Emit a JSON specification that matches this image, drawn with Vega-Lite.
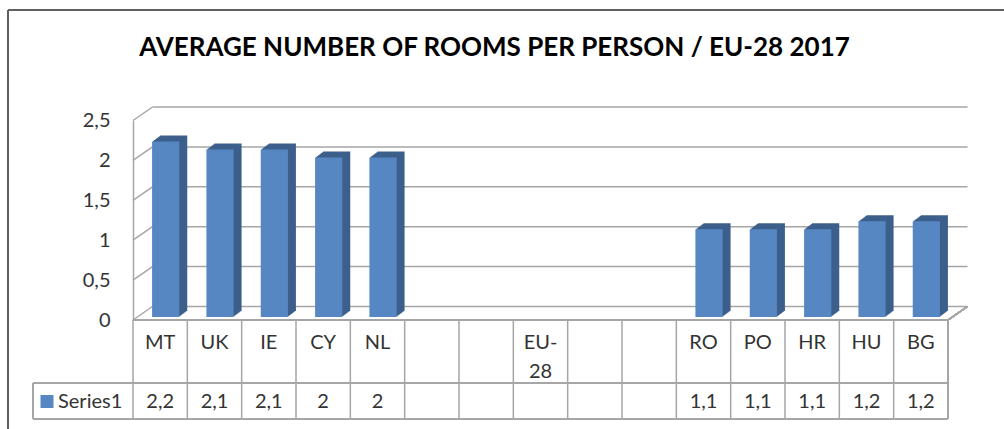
{
  "$schema": "https://vega.github.io/schema/vega-lite/v6.json",
  "autosize": {"type": "none"},
  "padding": {"left": 133, "top": 120.5, "right": 56, "bottom": 109},
  "width": 815,
  "height": 199.5,
  "background": "#ffffff",
  "title": {"text": "AVERAGE NUMBER OF ROOMS PER PERSON / EU-28 2017", "font": "Lato", "fontSize": 26, "fontWeight": "bold", "color": "#000000", "anchor": "middle", "dx": -46, "offset": -52},
  "config": {
    "view": {"stroke": null},
    "numberFormat": "~g",
    "locale": {"number": {"decimal": ",", "thousands": ".", "grouping": [3], "currency": ["", " €"]}},
    "text": {"font": "Lato", "fontSize": 20, "color": "#333333"}
  },
  "data": {"values": [
    {"country": "MT", "label": "MT", "value": 2.2},
    {"country": "UK", "label": "UK", "value": 2.1},
    {"country": "IE", "label": "IE", "value": 2.1},
    {"country": "CY", "label": "CY", "value": 2},
    {"country": "NL", "label": "NL", "value": 2},
    {"country": "_a", "label": "", "value": null},
    {"country": "_b", "label": "", "value": null},
    {"country": "EU-28", "label": "EU-\n28", "value": null},
    {"country": "_c", "label": "", "value": null},
    {"country": "_d", "label": "", "value": null},
    {"country": "RO", "label": "RO", "value": 1.1},
    {"country": "PO", "label": "PO", "value": 1.1},
    {"country": "HR", "label": "HR", "value": 1.1},
    {"country": "HU", "label": "HU", "value": 1.2},
    {"country": "BG", "label": "BG", "value": 1.2}
  ]},
  "layer": [
    {
      "data": {"values": [{"v": 0}, {"v": 0.5}, {"v": 1}, {"v": 1.5}, {"v": 2}, {"v": 2.5}]},
      "mark": {"type": "rule", "color": "#a6a6a6", "strokeWidth": 1.5, "xOffset": 19.5, "x2Offset": 19.5, "yOffset": -13.5, "y2Offset": -13.5},
      "encoding": {
        "x": {"datum": "MT", "type": "nominal", "bandPosition": 0, "scale": {"domain": ["MT","UK","IE","CY","NL","_a","_b","EU-28","_c","_d","RO","PO","HR","HU","BG"], "paddingInner": 0, "paddingOuter": 0}, "axis": null},
        "x2": {"datum": "BG", "bandPosition": 1},
        "y": {"field": "v", "type": "quantitative", "scale": {"domain": [0, 2.5], "nice": false}, "axis": {"title": null}}
      }
    },
    {
      "data": {"values": [{"v": 0}, {"v": 0.5}, {"v": 1}, {"v": 1.5}, {"v": 2}, {"v": 2.5}]},
      "mark": {"type": "rule", "color": "#a6a6a6", "strokeWidth": 1.5, "x2Offset": 19.5, "y2Offset": -13.5},
      "encoding": {
        "x": {"datum": "MT", "type": "nominal", "bandPosition": 0, "scale": {"domain": ["MT","UK","IE","CY","NL","_a","_b","EU-28","_c","_d","RO","PO","HR","HU","BG"], "paddingInner": 0, "paddingOuter": 0}, "axis": null},
        "x2": {"datum": "MT", "bandPosition": 0},
        "y": {"field": "v", "type": "quantitative", "scale": {"domain": [0, 2.5], "nice": false}, "axis": {"title": null}},
        "y2": {"field": "v"}
      }
    },
    {
      "mark": {"type": "rule", "color": "#a6a6a6", "strokeWidth": 1.5, "x2Offset": 19.5, "y2Offset": -13.5},
      "encoding": {
        "x": {"datum": "BG", "type": "nominal", "bandPosition": 1, "scale": {"domain": ["MT","UK","IE","CY","NL","_a","_b","EU-28","_c","_d","RO","PO","HR","HU","BG"], "paddingInner": 0, "paddingOuter": 0}, "axis": null},
        "x2": {"datum": "BG", "bandPosition": 1},
        "y": {"datum": 0, "type": "quantitative", "scale": {"domain": [0, 2.5], "nice": false}, "axis": {"title": null}},
        "y2": {"datum": 0}
      }
    },
    {
      "transform": [{"filter": "isValid(datum.value)"}],
      "mark": {"type": "bar", "color": "#3c5f8b", "width": {"band": 0.5}, "xOffset": 13.5, "yOffset": -9, "y2Offset": -9},
      "encoding": {
        "x": {"field": "country", "type": "nominal", "scale": {"domain": ["MT","UK","IE","CY","NL","_a","_b","EU-28","_c","_d","RO","PO","HR","HU","BG"], "paddingInner": 0, "paddingOuter": 0}, "axis": null},
        "y": {"field": "value", "type": "quantitative", "scale": {"domain": [0, 2.5], "nice": false}, "axis": {"title": null}}
      }
    },
    {
      "transform": [{"filter": "isValid(datum.value)"}],
      "mark": {"type": "bar", "color": "#3c5f8b", "width": {"band": 0.5}, "xOffset": 12.5, "yOffset": -8.25, "y2Offset": -8.25},
      "encoding": {
        "x": {"field": "country", "type": "nominal", "scale": {"domain": ["MT","UK","IE","CY","NL","_a","_b","EU-28","_c","_d","RO","PO","HR","HU","BG"], "paddingInner": 0, "paddingOuter": 0}, "axis": null},
        "y": {"field": "value", "type": "quantitative", "scale": {"domain": [0, 2.5], "nice": false}, "axis": {"title": null}}
      }
    },
    {
      "transform": [{"filter": "isValid(datum.value)"}],
      "mark": {"type": "bar", "color": "#3c5f8b", "width": {"band": 0.5}, "xOffset": 11.5, "yOffset": -7.5, "y2Offset": -7.5},
      "encoding": {
        "x": {"field": "country", "type": "nominal", "scale": {"domain": ["MT","UK","IE","CY","NL","_a","_b","EU-28","_c","_d","RO","PO","HR","HU","BG"], "paddingInner": 0, "paddingOuter": 0}, "axis": null},
        "y": {"field": "value", "type": "quantitative", "scale": {"domain": [0, 2.5], "nice": false}, "axis": {"title": null}}
      }
    },
    {
      "transform": [{"filter": "isValid(datum.value)"}],
      "mark": {"type": "bar", "color": "#3c5f8b", "width": {"band": 0.5}, "xOffset": 10.5, "yOffset": -6.75, "y2Offset": -6.75},
      "encoding": {
        "x": {"field": "country", "type": "nominal", "scale": {"domain": ["MT","UK","IE","CY","NL","_a","_b","EU-28","_c","_d","RO","PO","HR","HU","BG"], "paddingInner": 0, "paddingOuter": 0}, "axis": null},
        "y": {"field": "value", "type": "quantitative", "scale": {"domain": [0, 2.5], "nice": false}, "axis": {"title": null}}
      }
    },
    {
      "transform": [{"filter": "isValid(datum.value)"}],
      "mark": {"type": "bar", "color": "#3c5f8b", "width": {"band": 0.5}, "xOffset": 9.5, "yOffset": -6, "y2Offset": -6},
      "encoding": {
        "x": {"field": "country", "type": "nominal", "scale": {"domain": ["MT","UK","IE","CY","NL","_a","_b","EU-28","_c","_d","RO","PO","HR","HU","BG"], "paddingInner": 0, "paddingOuter": 0}, "axis": null},
        "y": {"field": "value", "type": "quantitative", "scale": {"domain": [0, 2.5], "nice": false}, "axis": {"title": null}}
      }
    },
    {
      "transform": [{"filter": "isValid(datum.value)"}],
      "mark": {"type": "bar", "color": "#3c5f8b", "width": {"band": 0.5}, "xOffset": 8.5, "yOffset": -5.25, "y2Offset": -5.25},
      "encoding": {
        "x": {"field": "country", "type": "nominal", "scale": {"domain": ["MT","UK","IE","CY","NL","_a","_b","EU-28","_c","_d","RO","PO","HR","HU","BG"], "paddingInner": 0, "paddingOuter": 0}, "axis": null},
        "y": {"field": "value", "type": "quantitative", "scale": {"domain": [0, 2.5], "nice": false}, "axis": {"title": null}}
      }
    },
    {
      "transform": [{"filter": "isValid(datum.value)"}],
      "mark": {"type": "bar", "color": "#3c5f8b", "width": {"band": 0.5}, "xOffset": 7.5, "yOffset": -4.5, "y2Offset": -4.5},
      "encoding": {
        "x": {"field": "country", "type": "nominal", "scale": {"domain": ["MT","UK","IE","CY","NL","_a","_b","EU-28","_c","_d","RO","PO","HR","HU","BG"], "paddingInner": 0, "paddingOuter": 0}, "axis": null},
        "y": {"field": "value", "type": "quantitative", "scale": {"domain": [0, 2.5], "nice": false}, "axis": {"title": null}}
      }
    },
    {
      "transform": [{"filter": "isValid(datum.value)"}],
      "mark": {"type": "bar", "color": "#3c5f8b", "width": {"band": 0.5}, "xOffset": 6.5, "yOffset": -3.75, "y2Offset": -3.75},
      "encoding": {
        "x": {"field": "country", "type": "nominal", "scale": {"domain": ["MT","UK","IE","CY","NL","_a","_b","EU-28","_c","_d","RO","PO","HR","HU","BG"], "paddingInner": 0, "paddingOuter": 0}, "axis": null},
        "y": {"field": "value", "type": "quantitative", "scale": {"domain": [0, 2.5], "nice": false}, "axis": {"title": null}}
      }
    },
    {
      "transform": [{"filter": "isValid(datum.value)"}],
      "mark": {"type": "bar", "color": "#5787c3", "width": {"band": 0.5}, "xOffset": 5.5, "yOffset": -3, "y2Offset": -3},
      "encoding": {
        "x": {"field": "country", "type": "nominal", "scale": {"domain": ["MT","UK","IE","CY","NL","_a","_b","EU-28","_c","_d","RO","PO","HR","HU","BG"], "paddingInner": 0, "paddingOuter": 0}, "axis": null},
        "y": {"field": "value", "type": "quantitative", "scale": {"domain": [0, 2.5], "nice": false}, "axis": {"orient": "left", "ticks": false, "grid": false, "domain": true, "domainColor": "#a6a6a6", "domainWidth": 1.5, "labelFont": "Lato", "labelFontSize": 20, "labelColor": "#333333", "labelPadding": 23, "labelOverlap": false, "labelFlush": false, "values": [0, 0.5, 1, 1.5, 2, 2.5], "tickCount": 6, "format": "~g", "title": null}}
      }
    },
    {
      "mark": {"type": "rule", "color": "#a6a6a6", "strokeWidth": 1.5},
      "encoding": {
        "x": {"datum": "MT", "type": "nominal", "bandPosition": 0, "scale": {"domain": ["MT","UK","IE","CY","NL","_a","_b","EU-28","_c","_d","RO","PO","HR","HU","BG"], "paddingInner": 0, "paddingOuter": 0}, "axis": null},
        "x2": {"datum": "BG", "bandPosition": 1},
        "y": {"datum": 0, "type": "quantitative", "scale": {"domain": [0, 2.5], "nice": false}, "axis": {"title": null}}
      }
    },
    {
      "mark": {"type": "rule", "color": "#a6a6a6", "strokeWidth": 1.5, "xOffset": -100, "yOffset": 63},
      "encoding": {
        "x": {"datum": "MT", "type": "nominal", "bandPosition": 0, "scale": {"domain": ["MT","UK","IE","CY","NL","_a","_b","EU-28","_c","_d","RO","PO","HR","HU","BG"], "paddingInner": 0, "paddingOuter": 0}, "axis": null},
        "x2": {"datum": "BG", "bandPosition": 1},
        "y": {"datum": 0, "type": "quantitative", "scale": {"domain": [0, 2.5], "nice": false}, "axis": {"title": null}}
      }
    },
    {
      "mark": {"type": "rule", "color": "#a6a6a6", "strokeWidth": 1.5, "xOffset": -100, "yOffset": 99},
      "encoding": {
        "x": {"datum": "MT", "type": "nominal", "bandPosition": 0, "scale": {"domain": ["MT","UK","IE","CY","NL","_a","_b","EU-28","_c","_d","RO","PO","HR","HU","BG"], "paddingInner": 0, "paddingOuter": 0}, "axis": null},
        "x2": {"datum": "BG", "bandPosition": 1},
        "y": {"datum": 0, "type": "quantitative", "scale": {"domain": [0, 2.5], "nice": false}, "axis": {"title": null}}
      }
    },
    {
      "mark": {"type": "rule", "color": "#a6a6a6", "strokeWidth": 1.5, "y2Offset": 99},
      "encoding": {
        "x": {"field": "country", "type": "nominal", "bandPosition": 0, "scale": {"domain": ["MT","UK","IE","CY","NL","_a","_b","EU-28","_c","_d","RO","PO","HR","HU","BG"], "paddingInner": 0, "paddingOuter": 0}, "axis": null},
        "y": {"datum": 0, "type": "quantitative", "scale": {"domain": [0, 2.5], "nice": false}, "axis": {"title": null}},
        "y2": {"datum": 0}
      }
    },
    {
      "mark": {"type": "rule", "color": "#a6a6a6", "strokeWidth": 1.5, "y2Offset": 99},
      "encoding": {
        "x": {"datum": "BG", "type": "nominal", "bandPosition": 1, "scale": {"domain": ["MT","UK","IE","CY","NL","_a","_b","EU-28","_c","_d","RO","PO","HR","HU","BG"], "paddingInner": 0, "paddingOuter": 0}, "axis": null},
        "y": {"datum": 0, "type": "quantitative", "scale": {"domain": [0, 2.5], "nice": false}, "axis": {"title": null}},
        "y2": {"datum": 0}
      }
    },
    {
      "mark": {"type": "rule", "color": "#a6a6a6", "strokeWidth": 1.5, "xOffset": -100, "yOffset": 63, "y2Offset": 99},
      "encoding": {
        "x": {"datum": "MT", "type": "nominal", "bandPosition": 0, "scale": {"domain": ["MT","UK","IE","CY","NL","_a","_b","EU-28","_c","_d","RO","PO","HR","HU","BG"], "paddingInner": 0, "paddingOuter": 0}, "axis": null},
        "y": {"datum": 0, "type": "quantitative", "scale": {"domain": [0, 2.5], "nice": false}, "axis": {"title": null}},
        "y2": {"datum": 0}
      }
    },
    {
      "mark": {"type": "text", "baseline": "top", "align": "center", "lineBreak": "\n", "lineHeight": 29, "yOffset": 13},
      "encoding": {
        "x": {"field": "country", "type": "nominal", "scale": {"domain": ["MT","UK","IE","CY","NL","_a","_b","EU-28","_c","_d","RO","PO","HR","HU","BG"], "paddingInner": 0, "paddingOuter": 0}, "axis": null},
        "y": {"datum": 0, "type": "quantitative", "scale": {"domain": [0, 2.5], "nice": false}, "axis": {"title": null}},
        "text": {"field": "label"}
      }
    },
    {
      "transform": [{"filter": "isValid(datum.value)"}],
      "mark": {"type": "text", "baseline": "middle", "align": "center", "yOffset": 82},
      "encoding": {
        "x": {"field": "country", "type": "nominal", "scale": {"domain": ["MT","UK","IE","CY","NL","_a","_b","EU-28","_c","_d","RO","PO","HR","HU","BG"], "paddingInner": 0, "paddingOuter": 0}, "axis": null},
        "y": {"datum": 0, "type": "quantitative", "scale": {"domain": [0, 2.5], "nice": false}, "axis": {"title": null}},
        "text": {"field": "value", "type": "quantitative", "format": "~g"}
      }
    },
    {
      "data": {"values": [{"series": "Series1"}]},
      "mark": {"type": "text", "baseline": "middle", "align": "left", "xOffset": -75, "yOffset": 82},
      "encoding": {
        "x": {"datum": "MT", "type": "nominal", "bandPosition": 0, "scale": {"domain": ["MT","UK","IE","CY","NL","_a","_b","EU-28","_c","_d","RO","PO","HR","HU","BG"], "paddingInner": 0, "paddingOuter": 0}, "axis": null},
        "y": {"datum": 0, "type": "quantitative", "scale": {"domain": [0, 2.5], "nice": false}, "axis": {"title": null}},
        "text": {"field": "series"}
      }
    },
    {
      "data": {"values": [{"series": "Series1"}]},
      "mark": {"type": "square", "filled": true, "opacity": 1, "color": "#5787c3", "size": 169, "xOffset": -86, "yOffset": 81.5},
      "encoding": {
        "x": {"datum": "MT", "type": "nominal", "bandPosition": 0, "scale": {"domain": ["MT","UK","IE","CY","NL","_a","_b","EU-28","_c","_d","RO","PO","HR","HU","BG"], "paddingInner": 0, "paddingOuter": 0}, "axis": null},
        "y": {"datum": 0, "type": "quantitative", "scale": {"domain": [0, 2.5], "nice": false}, "axis": {"title": null}}
      }
    },
    {
      "mark": {"type": "rule", "color": "#606060", "strokeWidth": 1.5, "xOffset": -125, "x2Offset": 70, "yOffset": -110.5},
      "encoding": {
        "x": {"datum": "MT", "type": "nominal", "bandPosition": 0, "scale": {"domain": ["MT","UK","IE","CY","NL","_a","_b","EU-28","_c","_d","RO","PO","HR","HU","BG"], "paddingInner": 0, "paddingOuter": 0}, "axis": null},
        "x2": {"datum": "BG", "bandPosition": 1},
        "y": {"datum": 2.5, "type": "quantitative", "scale": {"domain": [0, 2.5], "nice": false}, "axis": {"title": null}}
      }
    },
    {
      "mark": {"type": "rule", "color": "#606060", "strokeWidth": 1.5, "xOffset": -125, "yOffset": -110.5, "y2Offset": 120},
      "encoding": {
        "x": {"datum": "MT", "type": "nominal", "bandPosition": 0, "scale": {"domain": ["MT","UK","IE","CY","NL","_a","_b","EU-28","_c","_d","RO","PO","HR","HU","BG"], "paddingInner": 0, "paddingOuter": 0}, "axis": null},
        "y": {"datum": 2.5, "type": "quantitative", "scale": {"domain": [0, 2.5], "nice": false}, "axis": {"title": null}},
        "y2": {"datum": 0}
      }
    }
  ]
}
